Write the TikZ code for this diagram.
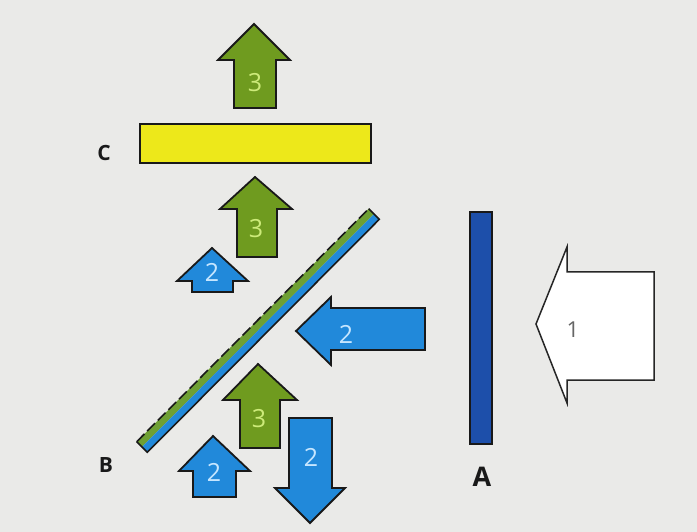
\documentclass[tikz,border=0pt]{standalone}
\usepackage{fontspec}
\setmainfont{Open Sans}
\begin{document}
\begin{tikzpicture}[x=1pt,y=-1pt,
  outline/.style={draw=black!90,line width=1.8pt,line join=miter},
  greenarrow/.style={outline,fill=arrowgreen},
  bluearrow/.style={outline,fill=arrowblue},
  greenlabel/.style={text=labelgreen,font=\fontsize{25}{25}\selectfont},
  bluelabel/.style={text=labelblue,font=\fontsize{25}{25}\selectfont},
  letter/.style={font=\bfseries\fontsize{21}{21}\selectfont,text=black!90}]
\definecolor{bg}{HTML}{EAEAE8}
\definecolor{arrowgreen}{HTML}{6F9B1F}
\definecolor{labelgreen}{HTML}{CDEB7A}
\definecolor{arrowblue}{HTML}{2189DA}
\definecolor{labelblue}{HTML}{C6E6FF}
\definecolor{barblue}{HTML}{1D4FAA}
\definecolor{baryellow}{HTML}{EDE81A}
\definecolor{mirrorgreen}{HTML}{6FA034}
\useasboundingbox (0,0) rectangle (697,532);
\fill[bg] (0,0) rectangle (697,532);

% top green arrow above C
\draw[greenarrow] (234,108) -- (234,60) -- (218,60) -- (254,24) -- (290,60) -- (276,60) -- (276,108) -- cycle;
\node[greenlabel] (g1) at (255,83) {3};

% screen C
\draw[outline,fill=baryellow] (140,124) rectangle (371,163);
\node[letter] (lc) at (104,153) {C};

% green arrow between B and C
\draw[greenarrow] (237,257) -- (237,209) -- (220,209) -- (255,177) -- (292,209) -- (277,209) -- (277,257) -- cycle;
\node[greenlabel] (g2) at (256,229) {3};

% small blue arrow upper left
\draw[bluearrow] (192,292) -- (192,281) -- (177,281) -- (212,248) -- (248,281) -- (233,281) -- (233,292) -- cycle;
\node[bluelabel] (b1) at (212,272) {2};

% diagonal mirror B (green face dashed, blue back)
\fill[mirrorgreen] (136.7,441.7) -- (368.7,208.7) -- (374,214) -- (142,447) -- cycle;
\fill[arrowblue] (142,447) -- (374,214) -- (379.3,219.3) -- (147.3,452.3) -- cycle;
\draw[outline,line width=1.6pt] (368.7,208.7) -- (379.3,219.3) -- (147.3,452.3) -- (136.7,441.7);
\draw[outline,line width=1.6pt,dash pattern=on 11pt off 4pt] (136.7,441.7) -- (368.7,208.7);
\node[letter] (lb) at (106,465) {B};

% large blue arrow pointing left
\draw[bluearrow] (425,308) -- (331,308) -- (331,297) -- (296,331) -- (331,365) -- (331,350) -- (425,350) -- cycle;
\node[bluelabel] (b2) at (346,334) {2};

% screen A
\draw[outline,line width=1.4pt,fill=barblue] (470,212) rectangle (492,444);
\node[letter,font=\bfseries\fontsize{27}{27}\selectfont] (la) at (482,477) {A};

% white incoming arrow 1
\draw[draw=black!85,line width=1.5pt,fill=white] (654,272) -- (567,272) -- (567,247) -- (536,324) -- (567,403) -- (567,380) -- (654,380) -- cycle;
\node[text=black!60,font=\fontsize{22}{22}\selectfont] (w1) at (573,330) {1};

% bottom green arrow
\draw[greenarrow] (240,448) -- (240,400) -- (223,400) -- (258,364) -- (297,400) -- (280,400) -- (280,448) -- cycle;
\node[greenlabel] (g3) at (259,419) {3};

% bottom small blue arrow
\draw[bluearrow] (193,497) -- (193,471) -- (179,471) -- (213,436) -- (250,471) -- (236,471) -- (236,497) -- cycle;
\node[bluelabel] (b3) at (214,472) {2};

% blue arrow pointing down
\draw[bluearrow] (289,418) -- (332,418) -- (332,488) -- (345,488) -- (310,523) -- (275,488) -- (289,488) -- cycle;
\node[bluelabel] (b4) at (311,457) {2};
\end{tikzpicture}
\end{document}
